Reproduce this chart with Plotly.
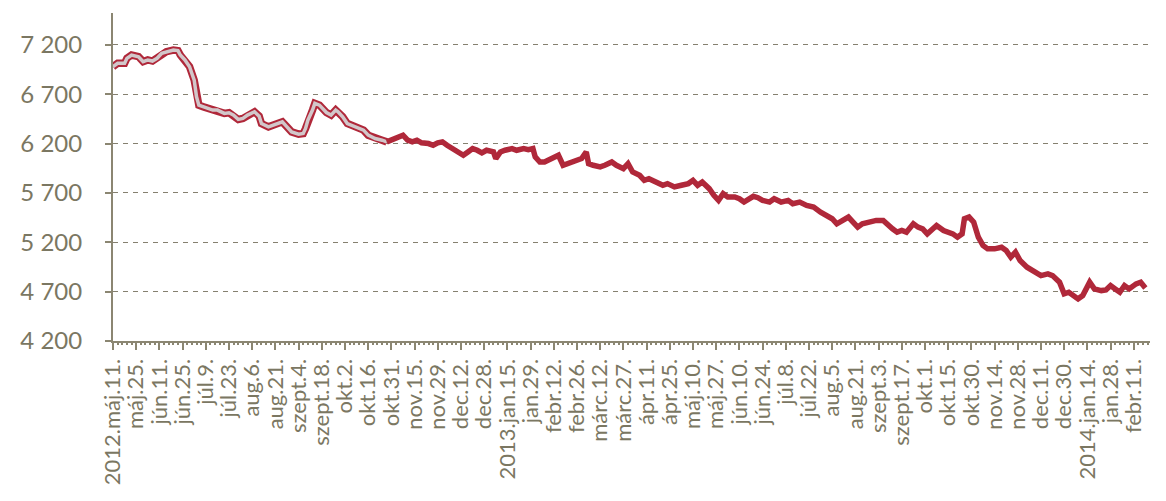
import plotly.graph_objects as go

# Trading-day index (0 = 2012.05.11) and index level
day = [0, 2, 5, 6, 8, 11, 13, 15, 17, 19, 21, 23, 26, 28, 29, 31, 33, 35, 36, 37,
       39, 41, 43, 45, 48, 50, 52, 54, 56, 58, 61, 63, 64, 67, 69, 71, 73, 75, 77, 80,
       82, 83, 84, 86, 87, 89, 92, 94, 96, 97, 99, 101, 105, 108, 110, 113, 116, 118,
       120, 123, 125, 127, 129, 131, 133, 136, 138, 140, 142, 144, 146, 148, 151, 153,
       155, 157, 159, 161, 164, 165, 167, 169, 172, 174, 177, 179, 181, 182, 184, 186,
       189, 192, 194, 196, 199, 202, 204, 205, 207, 210, 212, 215, 217, 220, 222, 224,
       227, 229, 231, 234, 237, 239, 242, 245, 248, 250, 252, 254, 257, 259, 261, 263,
       265, 268, 270, 272, 274, 276, 278, 280, 283, 285, 288, 291, 293, 296, 299, 302,
       305, 308, 310, 312, 314, 317, 319, 321, 323, 326, 329, 332, 334, 336, 338, 340,
       342, 345, 347, 349, 351, 353, 355, 358, 360, 362, 364, 366, 367, 369, 371, 373,
       375, 377, 380, 383, 385, 387, 389, 391, 394, 397, 400, 403, 405, 408, 410, 412,
       414, 416, 418, 420, 421, 423, 426, 428, 430, 432, 434, 436, 438, 441, 443, 445]

level = [6980, 7014, 7014, 7065, 7098, 7081, 7031, 7048, 7037, 7065, 7115, 7132, 7149,
         7143, 7098, 7048, 6980, 6844, 6675, 6590, 6573, 6557, 6540, 6540, 6506, 6513,
         6489, 6445, 6455, 6489, 6523, 6479, 6404, 6370, 6387, 6411, 6421, 6370, 6319,
         6296, 6303, 6354, 6438, 6540, 6608, 6590, 6515, 6489, 6540, 6523, 6472, 6404,
         6370, 6337, 6286, 6252, 6235, 6218, 6235, 6268, 6286, 6235, 6218, 6235, 6208,
         6201, 6184, 6208, 6218, 6184, 6150, 6116, 6082, 6116, 6150, 6133, 6106, 6133,
         6116, 6049, 6116, 6133, 6150, 6133, 6150, 6140, 6150, 6065, 6014, 6014, 6049,
         6082, 5981, 5998, 6031, 6049, 6116, 5998, 5981, 5964, 5981, 6014, 5981, 5947,
         5998, 5913, 5879, 5828, 5845, 5811, 5778, 5795, 5761, 5778, 5795, 5828, 5778,
         5811, 5744, 5676, 5625, 5693, 5659, 5659, 5642, 5608, 5642, 5666, 5652, 5625,
         5608, 5642, 5608, 5625, 5591, 5608, 5574, 5557, 5506, 5473, 5439, 5388, 5422,
         5456, 5405, 5354, 5388, 5405, 5422, 5422, 5371, 5337, 5303, 5320, 5303, 5388,
         5354, 5337, 5286, 5320, 5371, 5320, 5303, 5286, 5252, 5286, 5439, 5456, 5405,
         5252, 5169, 5134, 5134, 5150, 5117, 5049, 5100, 5015, 4948, 4897, 4863, 4880,
         4863, 4796, 4678, 4694, 4660, 4627, 4660, 4745, 4796, 4728, 4711, 4718, 4762,
         4728, 4694, 4762, 4728, 4779, 4796, 4738]

# Category labels, one every 10 trading days
date_labels = ["2012.máj.11.", "máj.25.", "jún.11.", "jún.25.", "júl.9.", "júl.23.",
               "aug.6.", "aug.21.", "szept.4.", "szept.18.", "okt.2.", "okt.16.",
               "okt.31.", "nov.15.", "nov.29.", "dec.12.", "dec.28.", "2013.jan.15.",
               "jan.29.", "febr.12.", "febr.26.", "márc.12.", "márc.27.", "ápr.11.",
               "ápr.25.", "máj.10.", "máj.27.", "jún.10.", "jún.24.", "júl.8.",
               "júl.22.", "aug.5.", "aug.21.", "szept.3.", "szept.17.", "okt.1.",
               "okt.15.", "okt.30.", "nov.14.", "nov.28.", "dec.11.", "dec.30.",
               "2014.jan.14.", "jan.28.", "febr.11."]
label_days = [10 * i for i in range(len(date_labels))]

y_ticks = [4200, 4700, 5200, 5700, 6200, 6700, 7200]
y_labels = ["4 200", "4 700", "5 200", "5 700", "6 200", "6 700", "7 200"]

RED = "#b0283a"
AXIS = "#8b8672"
TEXT = "#7b7762"

split = day.index(118)

fig = go.Figure()
# early stretch drawn as a hollow (outlined) line
fig.add_trace(go.Scatter(x=day[:split + 1], y=level[:split + 1], mode="lines",
                         line=dict(color=RED, width=7.5), hoverinfo="skip"))
fig.add_trace(go.Scatter(x=day[:split + 1], y=level[:split + 1], mode="lines",
                         line=dict(color="#d2c7ca", width=3.5), hoverinfo="skip"))
# remaining stretch as a solid line
fig.add_trace(go.Scatter(x=day[split:], y=level[split:], mode="lines",
                         line=dict(color=RED, width=5.5)))

fig.update_layout(
    width=1166, height=501,
    margin=dict(l=113, r=16, t=13, b=160),
    paper_bgcolor="white", plot_bgcolor="white",
    showlegend=False,
    font=dict(family="Lato", color=TEXT),
)
fig.update_xaxes(
    range=[0, 447],
    tickmode="array", tickvals=label_days, ticktext=date_labels,
    tickangle=-90, tickfont=dict(size=22, color=TEXT),
    ticks="outside", ticklen=7, tickwidth=1.5, tickcolor=AXIS,
    showline=True, linecolor=AXIS, linewidth=2,
    showgrid=False, zeroline=False,
    minor=dict(ticks="outside", ticklen=2, tickcolor=AXIS, dtick=2, tick0=0, showgrid=False),
)
fig.update_yaxes(
    range=[4200, 7524],
    tickmode="array", tickvals=y_ticks, ticktext=y_labels,
    tickfont=dict(size=24, color=TEXT),
    ticks="outside", ticklen=6, tickwidth=1.5, tickcolor=AXIS,
    showline=True, linecolor=AXIS, linewidth=2,
    showgrid=True, gridcolor="#858070", gridwidth=1.4, griddash="5px,5px",
    zeroline=False, ticklabelstandoff=18,
)

fig.write_html("out.html")
